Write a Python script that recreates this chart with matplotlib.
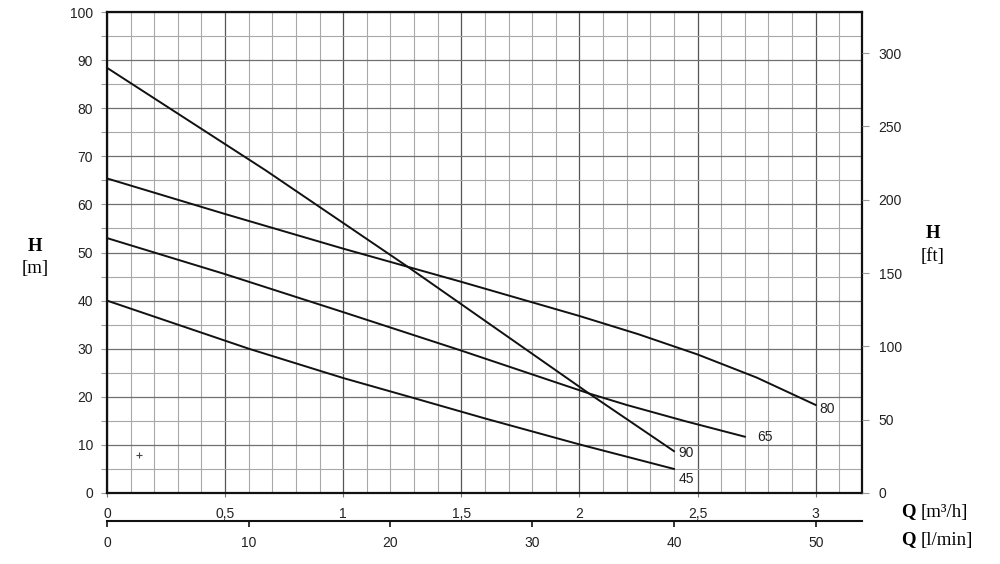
import matplotlib
matplotlib.use("Agg")
import matplotlib.pyplot as plt
from matplotlib.ticker import MultipleLocator, FuncFormatter

# Pump curves: Q [m3/h] vs H [m]
q45 = [0, 0.3, 0.6, 1.0, 1.28, 1.6, 2.0, 2.4]
h45 = [40.0, 35.0, 30.0, 23.9, 20.0, 15.5, 10.1, 5.0]

q65 = [0, 0.5, 1.0, 1.5, 2.04, 2.2, 2.45, 2.7]
h65 = [53.0, 45.5, 37.6, 29.6, 20.7, 18.3, 14.9, 11.7]

q80 = [0, 0.5, 1.0, 1.5, 2.0, 2.25, 2.5, 2.75, 3.0]
h80 = [65.4, 58.0, 50.8, 43.9, 36.8, 33.0, 28.8, 24.0, 18.3]

q90 = [0, 0.671, 1.274, 2.04, 2.4]
h90 = [88.4, 67.1, 47.0, 20.7, 8.7]

curve_names = ["45", "65", "80", "90"]
marker_q = [0.134]
marker_h = [7.9]

ft_ticks = [0, 50, 100, 150, 200, 250, 300]
lmin_ticks = [0, 10, 20, 30, 40, 50]

sans = ["Liberation Sans", "DejaVu Sans"]
serif = ["Liberation Serif", "DejaVu Serif"]
plt.rcParams["font.family"] = sans

fig = plt.figure(figsize=(10, 5.64), dpi=100)
ax = fig.add_axes([0.107, 0.1259, 0.755, 0.8528])

ax.set_xlim(0, 3.196)
ax.set_ylim(0, 100)

ax.xaxis.set_major_locator(MultipleLocator(0.5))
ax.xaxis.set_minor_locator(MultipleLocator(0.1))
ax.yaxis.set_major_locator(MultipleLocator(10))
ax.yaxis.set_minor_locator(MultipleLocator(5))
ax.xaxis.set_major_formatter(FuncFormatter(lambda v, p: f"{v:g}".replace(".", ",")))

ax.grid(which="minor", color="#a8a8a8", lw=0.8)
ax.grid(which="major", axis="x", color="#555555", lw=0.9)
ax.grid(which="major", axis="y", color="#707070", lw=0.9)
ax.set_axisbelow(True)

for s in ax.spines.values():
    s.set_linewidth(1.6)
    s.set_color("#111111")

ax.tick_params(axis="x", which="major", direction="out", length=3, width=0.8,
               color="#777777", pad=7, labelsize=10, labelcolor="#222222")
ax.tick_params(axis="x", which="minor", length=0)
ax.tick_params(axis="y", which="both", direction="out", length=4, width=0.8,
               color="#999999", pad=6, labelsize=10, labelcolor="#222222")

curves = [(q45, h45), (q65, h65), (q80, h80), (q90, h90)]
for (q, h) in curves:
    ax.plot(q, h, color="#111111", lw=1.4, solid_joinstyle="round")

# curve labels next to the end points
offsets = {"45": (3, -7), "65": (9, 0), "80": (3, -3), "90": (3, -1)}
for name, (q, h) in zip(curve_names, curves):
    ax.annotate(name, (q[-1], h[-1]), xytext=offsets[name], textcoords="offset points",
                ha="left", va="center", fontsize=10, color="#222222")

ax.plot(marker_q, marker_h, marker="+", ms=4, mew=0.8, color="#444444", ls="none")

# right axis in feet
ax2 = ax.twinx()
ax2.set_ylim(0, 100 * 3.28084)
ax2.set_yticks(ft_ticks)
ax2.tick_params(axis="y", direction="out", length=5, width=0.8, color="#999999",
                pad=7, labelsize=10, labelcolor="#222222")
for s in ax2.spines.values():
    s.set_visible(False)

# second x axis in l/min
sec = ax.secondary_xaxis(-0.058, functions=(lambda q: q * 1000 / 60, lambda l: l * 60 / 1000))
sec.set_xticks(lmin_ticks)
sec.spines["bottom"].set_linewidth(1.5)
sec.spines["bottom"].set_color("#111111")
sec.tick_params(axis="x", direction="out", length=4, width=1.2, color="#111111",
                pad=7, labelsize=10, labelcolor="#222222")
sec.xaxis.set_minor_locator(MultipleLocator(100))

# axis titles
fs = 13.5
fig.text(0.035, 0.563, "H", family=serif, fontsize=fs, fontweight="bold", ha="center", va="center")
fig.text(0.035, 0.524, "[m]", family=serif, fontsize=fs, ha="center", va="center")
fig.text(0.933, 0.586, "H", family=serif, fontsize=fs, fontweight="bold", ha="center", va="center")
fig.text(0.933, 0.545, "[ft]", family=serif, fontsize=fs, ha="center", va="center")

fig.text(0.901, 1 - 512 / 564, "Q", family=serif, fontsize=fs, fontweight="bold", ha="left", va="center")
fig.text(0.921, 1 - 512 / 564, "[m³/h]", family=serif, fontsize=fs, ha="left", va="center")
fig.text(0.901, 1 - 540 / 564, "Q", family=serif, fontsize=fs, fontweight="bold", ha="left", va="center")
fig.text(0.921, 1 - 540 / 564, "[l/min]", family=serif, fontsize=fs, ha="left", va="center")

fig.savefig("out.png", dpi=100)
